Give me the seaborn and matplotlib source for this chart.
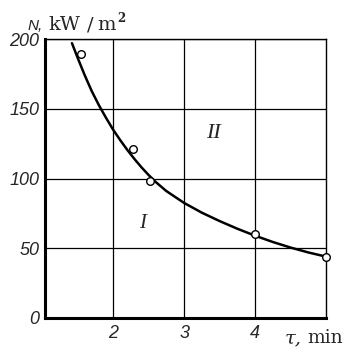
import matplotlib
matplotlib.use("Agg")
import matplotlib.pyplot as plt
import seaborn as sns
import pandas as pd

# measured points
tau_pts = [1.55, 2.28, 2.52, 4.0, 5.0]
n_pts = [189, 121, 98, 60, 44]

# fitted curve
tau_curve = [1.42, 1.5, 1.6, 1.7, 1.8, 1.9, 2.0, 2.1, 2.2, 2.3, 2.4, 2.5, 2.6, 2.75,
             3.0, 3.25, 3.5, 3.75, 4.0, 4.25, 4.5, 4.75, 5.0]
n_curve = [197, 186.5, 174, 162.5, 152.5, 143.5, 135, 127.5, 120.5, 114, 108, 102.5, 97.5, 91,
           82.5, 75.5, 69.5, 64, 59, 54.5, 50.5, 47, 44]

x_ticks = [2, 3, 4]
y_ticks = [0, 50, 100, 150, 200]

W, H = 349, 348

sns.set_theme(style="white")
plt.rcParams['font.family'] = ['DejaVu Sans']
num_font = 'Liberation Sans'
serif = 'DejaVu Serif'

fig = plt.figure(figsize=(W / 100, H / 100), dpi=100)
ax = fig.add_axes([45 / W, 1 - 318 / H, 281 / W, 279 / H])

curve = pd.DataFrame({'tau': tau_curve, 'N': n_curve})
pts = pd.DataFrame({'tau': tau_pts, 'N': n_pts})

sns.lineplot(data=curve, x='tau', y='N', ax=ax, color='black', linewidth=1.8, zorder=3)
sns.scatterplot(data=pts, x='tau', y='N', ax=ax, s=30, facecolor='white',
                edgecolor='black', linewidth=1.0, zorder=4, clip_on=False)

ax.set_xlim(1.04, 5.0)
ax.set_ylim(0, 200)
ax.set_xticks(x_ticks)
ax.set_yticks(y_ticks)
ax.set_xticklabels([str(v) for v in x_ticks], fontsize=13, fontstyle='italic', family=num_font)
ax.set_yticklabels([str(v) for v in y_ticks], fontsize=13, fontstyle='italic', family=num_font)
ax.tick_params(axis='x', length=0, pad=5)
ax.tick_params(axis='y', length=0, pad=4)
ax.set_xlabel('')
ax.set_ylabel('')

ax.grid(True, color='black', linewidth=0.9)
for side in ['left', 'bottom']:
    ax.spines[side].set_linewidth(2.2)
for side in ['top', 'right']:
    ax.spines[side].set_linewidth(1.0)
for s in ax.spines.values():
    s.set_color('black')

ax.text(2.42, 68, 'I', fontsize=15, fontstyle='italic', family='Liberation Serif',
        ha='center', va='center')
ax.text(3.42, 132, 'II', fontsize=16, fontstyle='italic', family='Liberation Serif',
        ha='center', va='center')


def px_text(x, y, s, **kw):
    fig.text(x / W, 1 - y / H, s, ha='left', va='baseline', **kw)


px_text(28, 30, 'N,', fontsize=11, fontstyle='italic', family=num_font)
px_text(48, 30, 'kW', fontsize=14, family=serif)
px_text(87, 30, '/', fontsize=14, family=serif)
px_text(97, 30, 'm', fontsize=14, family=serif)
px_text(117, 22, '2', fontsize=8.5, fontweight='bold', family=serif)
px_text(285, 343, 'τ,', fontsize=14, fontstyle='italic', family=serif)
px_text(307, 343, 'min', fontsize=13.5, family=serif)

fig.savefig('out.png', dpi=100)
